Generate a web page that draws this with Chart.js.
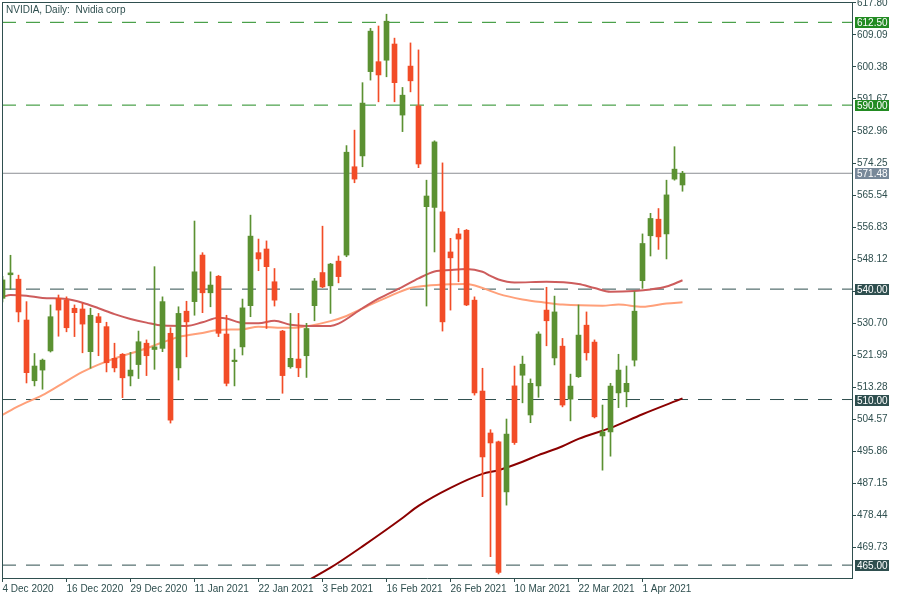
<!DOCTYPE html>
<html>
<head>
<meta charset="utf-8">
<title>NVIDIA, Daily</title>
<script src="https://cdn.jsdelivr.net/npm/chart.js@4.4.1/dist/chart.umd.min.js"></script>
<style>
  html, body { margin: 0; padding: 0; background: #ffffff; }
</style>
</head>
<body>
<canvas id="chart" width="900" height="600"></canvas>
<script>
// ---- data ----
const chartTitle = 'NVIDIA, Daily:  Nvidia corp';

const dates = [
  '4 Dec 2020', '7 Dec 2020', '8 Dec 2020', '9 Dec 2020', '10 Dec 2020', '11 Dec 2020',
  '14 Dec 2020', '15 Dec 2020', '16 Dec 2020', '17 Dec 2020', '18 Dec 2020',
  '21 Dec 2020', '22 Dec 2020', '23 Dec 2020', '24 Dec 2020',
  '28 Dec 2020', '29 Dec 2020', '30 Dec 2020', '31 Dec 2020',
  '4 Jan 2021', '5 Jan 2021', '6 Jan 2021', '7 Jan 2021', '8 Jan 2021',
  '11 Jan 2021', '12 Jan 2021', '13 Jan 2021', '14 Jan 2021', '15 Jan 2021',
  '19 Jan 2021', '20 Jan 2021', '21 Jan 2021', '22 Jan 2021',
  '25 Jan 2021', '26 Jan 2021', '27 Jan 2021', '28 Jan 2021', '29 Jan 2021',
  '1 Feb 2021', '2 Feb 2021', '3 Feb 2021', '4 Feb 2021', '5 Feb 2021',
  '8 Feb 2021', '9 Feb 2021', '10 Feb 2021', '11 Feb 2021', '12 Feb 2021',
  '16 Feb 2021', '17 Feb 2021', '18 Feb 2021', '19 Feb 2021',
  '22 Feb 2021', '23 Feb 2021', '24 Feb 2021', '25 Feb 2021', '26 Feb 2021',
  '1 Mar 2021', '2 Mar 2021', '3 Mar 2021', '4 Mar 2021', '5 Mar 2021',
  '8 Mar 2021', '9 Mar 2021', '10 Mar 2021', '11 Mar 2021', '12 Mar 2021',
  '15 Mar 2021', '16 Mar 2021', '17 Mar 2021', '18 Mar 2021', '19 Mar 2021',
  '22 Mar 2021', '23 Mar 2021', '24 Mar 2021', '25 Mar 2021', '26 Mar 2021',
  '29 Mar 2021', '30 Mar 2021', '31 Mar 2021', '1 Apr 2021',
  '5 Apr 2021', '6 Apr 2021', '7 Apr 2021', '8 Apr 2021', '9 Apr 2021'
];

const opens = [
  537.5, 543.9, 542.7, 531.6, 515.1, 518.0, 523.2, 537.5, 537.0, 534.8,
  534.6, 523.0, 532.5, 529.8, 521.2, 522.3, 516.4, 519.5, 525.3, 523.6,
  523.9, 528.0, 518.6, 534.0, 536.6, 549.25, 539.0, 543.5, 527.8, 520.3,
  524.3, 535.5, 549.9, 550.9, 542.0, 528.6, 518.9, 521.0, 521.9, 535.5,
  544.5, 540.9, 547.6, 549.25, 573.25, 576.2, 599.1, 601.8, 602.2, 606.6,
  587.3, 600.6, 589.8, 562.4, 562.2, 561.0, 550.1, 555.0, 556.0, 537.0,
  512.3, 500.9, 498.5, 484.9, 513.7, 516.6, 505.8, 513.7, 534.3, 521.3,
  524.5, 510.1, 516.2, 530.2, 525.6, 500.1, 501.2, 511.8, 512.1, 520.7,
  542.3, 554.5, 559.0, 555.0, 569.9, 568.3
];
const highs = [
  543.5, 549.2, 543.8, 536.6, 522.5, 521.0, 535.7, 538.4, 537.9, 535.7,
  536.1, 534.8, 533.4, 531.0, 525.3, 522.5, 522.8, 528.6, 526.2, 546.1,
  537.9, 529.5, 535.2, 536.7, 558.5, 549.9, 544.7, 543.7, 532.9, 523.7,
  537.3, 560.1, 553.6, 553.1, 545.6, 528.8, 533.4, 533.4, 530.7, 542.9,
  557.1, 547.0, 549.0, 579.0, 583.2, 596.1, 610.85, 611.5, 614.7, 608.2,
  594.8, 606.9, 605.0, 569.6, 580.3, 574.3, 553.8, 556.5, 556.2, 537.9,
  518.5, 501.8, 498.7, 504.7, 519.1, 521.8, 515.6, 528.4, 540.5, 538.1,
  526.6, 516.9, 535.7, 533.8, 526.2, 508.5, 514.4, 522.3, 519.1, 539.3,
  555.0, 560.6, 561.9, 569.6, 578.7, 572.0
];
const lows = [
  536.5, 539.9, 531.1, 514.5, 513.7, 512.8, 522.9, 527.2, 528.4, 527.1,
  522.7, 518.5, 521.9, 517.5, 517.5, 510.5, 513.7, 515.7, 516.5, 518.2,
  523.0, 503.6, 515.3, 521.6, 532.9, 533.6, 535.2, 527.1, 513.7, 513.7,
  522.1, 532.5, 545.0, 529.3, 535.4, 511.7, 518.5, 516.2, 516.0, 531.4,
  540.4, 533.4, 541.7, 548.8, 568.9, 573.25, 596.8, 590.9, 597.7, 590.9,
  582.8, 593.6, 573.0, 535.4, 550.1, 528.6, 534.3, 542.0, 535.5, 511.2,
  483.6, 467.3, 462.6, 481.3, 497.8, 509.1, 503.7, 510.6, 524.6, 519.4,
  508.0, 504.2, 516.0, 520.7, 505.0, 490.8, 494.6, 507.8, 508.0, 519.1,
  540.2, 549.0, 550.8, 548.2, 569.6, 566.6
];
const closes = [
  542.5, 544.4, 533.8, 517.3, 519.1, 520.7, 532.5, 534.3, 529.5, 533.6,
  530.5, 532.9, 530.9, 520.0, 518.6, 515.9, 518.0, 525.7, 521.9, 524.3,
  536.6, 504.4, 533.4, 531.1, 544.7, 539.0, 541.1, 528.0, 514.4, 520.7,
  534.9, 554.4, 548.2, 546.1, 537.0, 516.5, 521.2, 518.6, 529.3, 542.2,
  540.6, 546.8, 543.4, 577.2, 569.9, 590.55, 610.1, 598.2, 612.8, 596.1,
  592.7, 596.6, 574.0, 565.3, 580.0, 531.1, 548.5, 553.6, 535.7, 511.8,
  494.4, 498.2, 463.0, 500.6, 498.3, 519.6, 514.4, 527.8, 531.4, 533.8,
  508.5, 513.65, 527.5, 522.7, 505.3, 501.2, 513.65, 518.0, 514.4, 534.0,
  552.4, 559.2, 554.2, 565.6, 572.6, 571.48
];

// moving averages, sampled at bar indices
const maFastBars = [0, 1, 3, 5, 8, 10, 12, 14, 16, 18, 20, 23, 25, 27, 28, 30, 32, 34, 36, 38,
  41, 42, 45, 47, 50, 52, 54, 56, 58, 60, 61, 62, 64, 68, 72, 74, 76, 79, 81, 83, 85];
const maFastValues = [537.9, 538.4, 538.2, 537.6, 537.3, 536.3, 534.8, 533.2, 531.9, 530.9,
  530.1, 530.0, 531.0, 532.2, 532.0, 530.8, 530.7, 531.4, 530.3, 530.0,
  530.0, 530.6, 534.8, 537.4, 540.6, 542.9, 544.8, 545.2, 545.45, 544.7,
  543.6, 542.6, 541.8, 542.0, 541.4, 540.3, 539.3, 539.5, 539.9, 540.7, 542.4];

const maMidBars = [0, 2, 5, 7, 10, 12, 15, 17, 20, 22, 25, 27, 30, 32, 35, 37, 41, 43, 46, 48,
  51, 53, 56, 58, 60, 62, 65, 68, 70, 75, 77, 80, 83, 85];
const maMidValues = [505.8, 508.2, 511.2, 513.7, 517.5, 519.5, 521.9, 523.2, 525.5, 527.0,
  528.1, 528.9, 529.1, 529.8, 529.5, 529.6, 531.3, 532.7, 535.8, 537.7,
  540.3, 540.9, 541.3, 541.4, 540.3, 538.7, 537.2, 536.3, 535.8, 535.5,
  535.8, 535.2, 536.1, 536.4];

const maSlowBars = [38, 41, 45, 50, 52, 56, 60, 62, 65, 67, 70, 72, 76, 80, 85];
const maSlowValues = [460.6, 464.3, 470.1, 477.8, 481.1, 486.0, 489.8, 490.8, 493.1, 494.9,
  497.3, 499.3, 502.3, 506.0, 510.3];

const levelValues = [612.5, 590.0, 540.0, 510.0, 465.0];
const currentPrice = closes[closes.length - 1];

const xTickBars = [0, 8, 16, 24, 32, 40, 48, 56, 64, 72, 80];
const yTicks = [617.80, 609.09, 600.38, 591.67, 582.96, 574.25, 565.54, 556.83, 548.12,
  539.41, 530.70, 521.99, 513.28, 504.57, 495.86, 487.15, 478.44, 469.73];

// ---- look ----
const AXIS_COLOR = '#2f4f4f';
const BULL = '#5b9132';
const BEAR = '#f24c27';
const LEVEL_COLORS = ['#228b22', '#228b22', '#2f4f4f', '#2f4f4f', '#2f4f4f'];
const PRICE_COLOR = '#778899';
const X_MIN = -0.0625, X_MAX = 106.1875;
const Y_MIN = 461.5, Y_MAX = 618.02;

Chart.defaults.font.family = '"Liberation Sans", Arial, sans-serif';
Chart.defaults.font.size = 10;
Chart.defaults.color = AXIS_COLOR;

const bars = dates.map((d, i) => i);
const candleColors = bars.map(i => closes[i] >= opens[i] ? BULL : BEAR);

function points(xs, ys) {
  return xs.map((x, k) => ({ x: x, y: ys[k] }));
}

function flatLine(v, color, dashed) {
  return {
    type: 'line',
    data: [{ x: X_MIN, y: v }, { x: X_MAX, y: v }],
    borderColor: color,
    borderWidth: 1,
    borderDash: dashed ? [14, 10] : [],
    pointRadius: 0,
    order: 4
  };
}

function maLine(xs, ys, color) {
  return {
    type: 'line',
    data: points(xs, ys),
    borderColor: color,
    borderWidth: 2,
    pointRadius: 0,
    cubicInterpolationMode: 'monotone',
    order: 2
  };
}

// title + price tags on the right axis
const decorations = {
  id: 'decorations',
  afterDraw(chart) {
    const ctx = chart.ctx;
    const area = chart.chartArea;
    const y = chart.scales.y;
    ctx.save();
    // top and left frame
    ctx.strokeStyle = AXIS_COLOR;
    ctx.lineWidth = 1;
    ctx.beginPath();
    ctx.moveTo(area.left, area.top + 0.5);
    ctx.lineTo(area.right, area.top + 0.5);
    ctx.moveTo(area.left + 0.5, area.top);
    ctx.lineTo(area.left + 0.5, area.bottom);
    ctx.stroke();

    ctx.font = '10px "Liberation Sans", Arial, sans-serif';
    ctx.textBaseline = 'middle';
    ctx.fillStyle = AXIS_COLOR;
    ctx.fillText(chartTitle, 6, 10);

    const tags = levelValues.map((v, k) => [v, LEVEL_COLORS[k]]);
    tags.push([currentPrice, PRICE_COLOR]);
    tags.forEach(([v, color]) => {
      const py = Math.round(y.getPixelForValue(v));
      ctx.fillStyle = color;
      ctx.fillRect(area.right + 3, py - 5, 34, 11);
      ctx.fillStyle = '#ffffff';
      ctx.fillText(v.toFixed(2), area.right + 5, py + 1);
    });
    ctx.restore();
  }
};

const datasets = [
  {
    type: 'bar',
    data: bars.map(i => ({ x: i, y: [opens[i], closes[i]] })),
    backgroundColor: candleColors,
    barThickness: 5,
    minBarLength: 1,
    grouped: false,
    borderWidth: 0,
    order: 0
  },
  {
    type: 'bar',
    data: bars.map(i => ({ x: i, y: [lows[i], highs[i]] })),
    backgroundColor: candleColors,
    barThickness: 1,
    grouped: false,
    borderWidth: 0,
    order: 1
  },
  maLine(maFastBars, maFastValues, '#cd5c5c'),
  maLine(maMidBars, maMidValues, '#ffa07a'),
  maLine(maSlowBars, maSlowValues, '#8b0000'),
  flatLine(currentPrice, '#8c8f94', false)
];
levelValues.forEach((v, k) => datasets.push(flatLine(v, LEVEL_COLORS[k], true)));

new Chart(document.getElementById('chart'), {
  type: 'bar',
  data: { datasets: datasets },
  options: {
    responsive: false,
    animation: false,
    layout: { padding: { left: 2, top: 2, right: 0, bottom: 0 } },
    plugins: {
      legend: { display: false },
      tooltip: { enabled: false }
    },
    scales: {
      x: {
        type: 'linear',
        min: X_MIN,
        max: X_MAX,
        offset: false,
        grid: { drawOnChartArea: false, drawTicks: true, tickLength: 4, color: AXIS_COLOR, offset: false },
        border: { display: true, color: AXIS_COLOR },
        ticks: {
          align: 'start',
          maxRotation: 0,
          autoSkip: false,
          padding: 1,
          color: AXIS_COLOR,
          callback: v => dates[v]
        },
        afterBuildTicks: s => { s.ticks = xTickBars.map(v => ({ value: v })); },
        afterFit: s => { s.height = 22; s.paddingLeft = 0; s.paddingRight = 0; }
      },
      y: {
        type: 'linear',
        position: 'right',
        min: Y_MIN,
        max: Y_MAX,
        grid: { drawOnChartArea: false, drawTicks: true, tickLength: 4, color: AXIS_COLOR },
        border: { display: true, color: AXIS_COLOR },
        ticks: {
          padding: 1,
          color: AXIS_COLOR,
          callback: v => v.toFixed(2)
        },
        afterBuildTicks: s => { s.ticks = yTicks.map(v => ({ value: v })); },
        afterFit: s => { s.width = 48; s.paddingTop = 0; s.paddingBottom = 0; }
      }
    }
  },
  plugins: [decorations]
});
</script>
</body>
</html>
